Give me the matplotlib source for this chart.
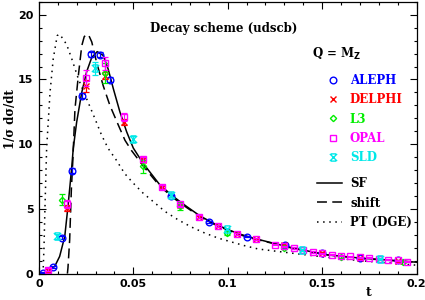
import matplotlib
matplotlib.use('Agg')
import matplotlib.pyplot as plt
from matplotlib.path import Path
from matplotlib.lines import Line2D

# theory curves
t_sf = [0.0, 0.002, 0.0048, 0.0084, 0.011, 0.0137, 0.0154, 0.0168, 0.0175, 0.0182,
        0.02, 0.0227, 0.0253, 0.028, 0.0309, 0.0341, 0.0367, 0.0394, 0.0429, 0.0465,
        0.05, 0.0553, 0.0641, 0.0712, 0.0783, 0.0853, 0.0923, 0.0994, 0.1065, 0.1135,
        0.1206, 0.1347, 0.1524, 0.17, 0.1876, 0.2]
y_sf = [0.0, 0.03, 0.18, 0.56, 1.33, 2.87, 5.18, 7.3, 8.4, 9.67,
        11.7, 14.0, 15.6, 16.7, 17.15, 16.85, 15.8, 14.3, 12.5, 10.95,
        9.7, 8.5, 6.85, 5.95, 5.18, 4.46, 3.9, 3.44, 3.05, 2.74,
        2.48, 1.97, 1.46, 1.2, 1.02, 0.88]

t_shift = [0.0151, 0.0154, 0.0163, 0.0172, 0.018, 0.0191, 0.0209, 0.0227, 0.024, 0.0253,
           0.0266, 0.028, 0.0306, 0.0341, 0.0376, 0.042, 0.0456, 0.0491, 0.0553, 0.0641,
           0.0712, 0.0783, 0.0853, 0.0923, 0.0994, 0.1065, 0.1135, 0.1206, 0.1347, 0.1524,
           0.17, 0.1876, 0.2]
y_shift = [0.0, 0.44, 2.6, 6.5, 8.8, 12.7, 15.3, 17.6, 18.3, 18.5,
           18.35, 17.9, 16.3, 14.5, 13.0, 11.5, 10.3, 9.5, 8.3, 6.75,
           5.85, 5.1, 4.4, 3.85, 3.4, 3.0, 2.7, 2.45, 1.95, 1.45,
           1.18, 1.0, 0.87]

t_pt = [0.0022, 0.0027, 0.0032, 0.0041, 0.0059, 0.0076, 0.0097, 0.0106, 0.0115, 0.0147,
        0.0174, 0.0209, 0.0253, 0.0297, 0.0332, 0.0367, 0.041, 0.0454, 0.0497, 0.0553,
        0.0606, 0.0668, 0.0738, 0.0809, 0.0879, 0.095, 0.1021, 0.1091, 0.1162, 0.13,
        0.15, 0.17, 0.2]
y_pt = [0.0, 2.0, 5.0, 9.67, 14.0, 16.6, 18.38, 18.5, 18.4, 17.7,
        16.6, 15.05, 13.5, 11.97, 10.7, 9.67, 8.77, 7.74, 7.03, 6.2,
        5.56, 4.8, 4.15, 3.59, 3.13, 2.74, 2.44, 2.15, 1.9, 1.65,
        1.3, 1.0, 0.65]

# measurements
aleph_t = [0.0023, 0.0073, 0.0122, 0.0175, 0.0228, 0.0276, 0.0325, 0.0376,
           0.0698, 0.09, 0.1103, 0.1303, 0.15, 0.17, 0.19]
aleph_y = [0.08, 0.52, 2.78, 7.95, 13.75, 16.95, 16.9, 14.98,
           6.0, 4.0, 2.84, 2.18, 1.62, 1.22, 1.02]
aleph_e = [0.05, 0.1, 0.1, 0.2, 0.2, 0.2, 0.2, 0.2,
           0.08, 0.06, 0.05, 0.04, 0.04, 0.04, 0.04]

delphi_t = [0.005, 0.015, 0.025, 0.035, 0.045, 0.055, 0.065, 0.075, 0.085, 0.095,
            0.105, 0.115, 0.13, 0.15, 0.17, 0.19]
delphi_y = [0.25, 5.05, 14.5, 15.3, 11.7, 8.75, 6.7, 5.3, 4.38, 3.66,
            3.05, 2.66, 2.18, 1.63, 1.2, 1.0]
delphi_e = [0.1, 0.25, 0.45, 0.3, 0.25, 0.15, 0.1, 0.1, 0.08, 0.07,
            0.06, 0.05, 0.05, 0.04, 0.04, 0.04]

l3_t = [0.0125, 0.035, 0.055, 0.075, 0.0998, 0.13, 0.16, 0.193]
l3_y = [5.72, 15.5, 8.3, 5.2, 3.15, 2.0, 1.3, 0.93]
l3_e = [0.45, 0.8, 0.5, 0.3, 0.15, 0.1, 0.08, 0.06]

opal_t = [0.005, 0.015, 0.025, 0.035, 0.045, 0.055, 0.065, 0.075, 0.085, 0.095,
          0.105, 0.115, 0.125, 0.13, 0.135, 0.14, 0.145, 0.15, 0.155, 0.16,
          0.165, 0.17, 0.175, 0.18, 0.185, 0.19, 0.195]
opal_y = [0.3, 5.38, 15.1, 16.25, 12.1, 8.82, 6.72, 5.36, 4.41, 3.69,
          3.05, 2.67, 2.23, 2.1, 1.97, 1.85, 1.67, 1.59, 1.46, 1.38,
          1.33, 1.28, 1.21, 1.15, 1.08, 1.03, 0.92]
opal_e = [0.1, 0.3, 0.6, 0.5, 0.3, 0.2, 0.15, 0.12, 0.1, 0.08,
          0.07, 0.06, 0.05, 0.05, 0.05, 0.05, 0.04, 0.04, 0.04, 0.04,
          0.04, 0.04, 0.04, 0.04, 0.04, 0.04, 0.04]

sld_t = [0.0097, 0.0297, 0.05, 0.0698, 0.0998, 0.1395, 0.1806]
sld_y = [2.88, 15.85, 10.38, 6.05, 3.44, 1.85, 1.15]
sld_e = [0.2, 0.5, 0.25, 0.15, 0.1, 0.08, 0.06]

# x with little bars top and bottom, like the SLD symbol
sld_marker = Path([(-1, -1), (1, 1), (-1, 1), (1, -1), (-0.7, 1), (0.7, 1), (-0.7, -1), (0.7, -1)],
                  [Path.MOVETO, Path.LINETO] * 4)

serif = ['DejaVu Serif']
plt.rcParams['font.family'] = ['DejaVu Sans']

fig = plt.figure(figsize=(4.25, 3), dpi=100)
ax = fig.add_axes([0.0915, 0.088, 0.8885, 0.906])

ax.plot(t_sf, y_sf, color='black', lw=1.1, label='SF')
ax.plot(t_shift, y_shift, color='black', lw=1.1, dashes=(6.5, 3.5), label='shift')
ax.plot(t_pt, y_pt, color='black', lw=1.1, dashes=(1, 3), label='PT (DGE)')

exps = [
    (aleph_t, aleph_y, aleph_e, 'o', '#0000ff', 4.8, 'ALEPH'),
    (delphi_t, delphi_y, delphi_e, 'x', '#ff0000', 4.8, 'DELPHI'),
    (l3_t, l3_y, l3_e, 'D', '#00ee00', 3.2, 'L3'),
    (opal_t, opal_y, opal_e, 's', '#ff00ff', 4.8, 'OPAL'),
    (sld_t, sld_y, sld_e, sld_marker, '#00e8e8', 5.2, 'SLD'),
]
handles = []
for t, y, e, m, c, ms, name in exps:
    ax.errorbar(t, y, yerr=e, fmt='none', ecolor=c, elinewidth=0.9, capsize=2.5, capthick=0.9)
    ax.plot(t, y, ls='none', marker=m, ms=ms, mfc='none', mec=c, mew=1.0)
    handles.append(Line2D([], [], ls='none', marker=m, ms=ms, mfc='none', mec=c, mew=1.0, label=name))

ax.set_xlim(0, 0.2)
ax.set_ylim(0, 21)
ax.set_xticks([0, 0.05, 0.1, 0.15, 0.2])
ax.set_xticklabels(['0', '0.05', '0.1', '0.15', '0.2'])
ax.set_yticks([0, 5, 10, 15, 20])
ax.set_xticks([i * 0.01 for i in range(21)], minor=True)
ax.set_yticks(range(22), minor=True)
ax.tick_params(which='both', direction='in', top=True, right=True, width=0.8)
ax.tick_params(which='major', length=5, labelsize=8, pad=4)
ax.tick_params(which='minor', length=2.5)
for lab in ax.get_xticklabels() + ax.get_yticklabels():
    lab.set_fontweight('bold')
for s in ax.spines.values():
    s.set_linewidth(0.9)

ax.set_xlabel('t', family=serif, fontweight='bold', fontsize=9)
ax.xaxis.set_label_coords(0.873, -0.045)
ax.set_ylabel('1/\u03c3 d\u03c3/dt', family=serif, fontweight='bold', fontsize=8.5)
ax.yaxis.set_label_coords(-0.058, 0.57)

ax.text(0.49, 0.903, 'Decay scheme (udscb)', transform=ax.transAxes, ha='center', va='center',
        family=serif, fontweight='bold', fontsize=8.5)
ax.text(0.723, 0.808, r'Q = M$_{\mathbf{Z}}$', transform=ax.transAxes, ha='left', va='center',
        family=serif, fontweight='bold', fontsize=8.5)

leg1 = ax.legend(handles=handles, loc='upper left', bbox_to_anchor=(0.755, 0.734),
                 frameon=False, borderpad=0, borderaxespad=0, handlelength=1.5,
                 handletextpad=0.7, labelspacing=0.53,
                 labelcolor=[h.get_mec() for h in handles],
                 prop={'family': serif, 'weight': 'bold', 'size': 8.5})
ax.add_artist(leg1)
ax.legend(handles=ax.get_lines()[:3], loc='upper left', bbox_to_anchor=(0.737, 0.355),
          frameon=False, borderpad=0, borderaxespad=0, handlelength=2.1,
          handletextpad=0.7, labelspacing=0.55,
          prop={'family': serif, 'weight': 'bold', 'size': 8.5})

fig.savefig('out.png', dpi=100)
